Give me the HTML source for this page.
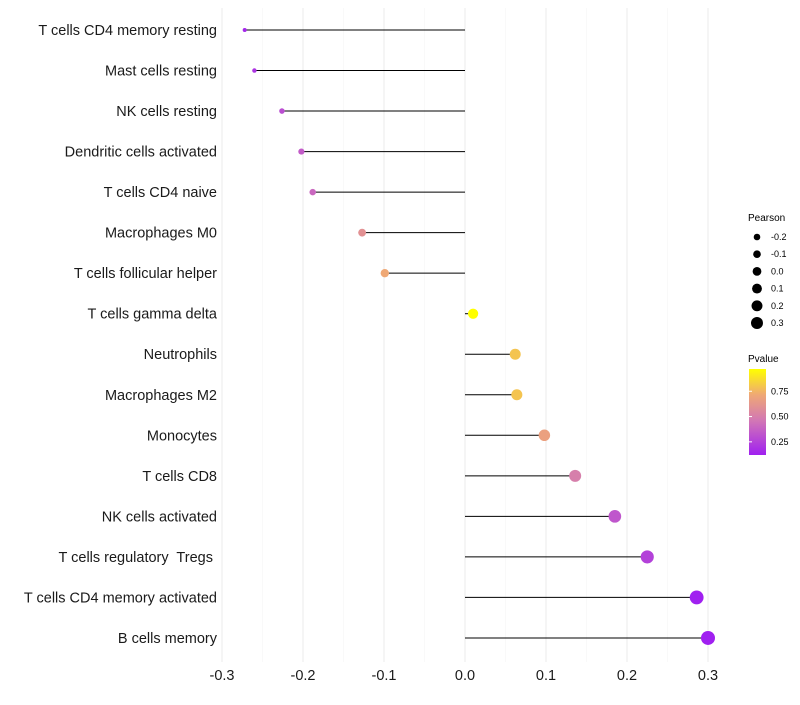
<!DOCTYPE html>
<html><head><meta charset="utf-8"><style>
body{margin:0;background:#fff;font-family:"Liberation Sans",sans-serif;}
</style></head><body>
<svg id="chart" width="800" height="700" xmlns="http://www.w3.org/2000/svg">
<defs><linearGradient id="pg" x1="0" y1="1" x2="0" y2="0">
<stop offset="0" stop-color="#A020F0"/><stop offset="0.4" stop-color="#D277B5"/><stop offset="0.7" stop-color="#EFA875"/><stop offset="1" stop-color="#FFFF00"/></linearGradient></defs>
<g id="grid"></g><g id="marks"></g><g id="labels"></g>
<g font-size="9" fill="#000">
<text x="748" y="221" font-size="10">Pearson</text>
<g id="sizeleg"></g></g>
<g font-size="9">
<text x="748" y="362" font-size="10">Pvalue</text>
<rect x="749" y="369" width="17" height="86" fill="url(#pg)"/>
<g id="cbticks"></g></g>
</svg>
<script>
const categories=["T cells CD4 memory resting","Mast cells resting","NK cells resting","Dendritic cells activated","T cells CD4 naive","Macrophages M0","T cells follicular helper","T cells gamma delta","Neutrophils","Macrophages M2","Monocytes","T cells CD8","NK cells activated","T cells regulatory  Tregs ","T cells CD4 memory activated","B cells memory"];
const pearson=[-0.272,-0.260,-0.226,-0.202,-0.188,-0.127,-0.099,0.010,0.062,0.064,0.098,0.136,0.185,0.225,0.286,0.300];
const pvalue=[0.15,0.2,0.3,0.35,0.4,0.6,0.72,0.97,0.8,0.8,0.68,0.5,0.33,0.25,0.12,0.12];
const xTicks=[-0.3,-0.2,-0.1,0.0,0.1,0.2,0.3];
const sizeLegend=[-0.2,-0.1,0.0,0.1,0.2,0.3];
const cbTicks=[0.25,0.5,0.75];
const NS="http://www.w3.org/2000/svg";
const x=v=>465+v*810;
const y=i=>30+i*40.53;
const r=v=>Math.sqrt(4+Math.max(0,v+0.272)*78.7);
const cb=p=>455-(p-0.12)/(0.97-0.12)*86;
const stops=[[0.12,[160,32,240]],[0.46,[210,119,181]],[0.72,[239,168,117]],[0.97,[255,255,0]]];
function col(p){p=Math.max(0.12,Math.min(0.97,p));for(let k=0;k<stops.length-1;k++){const[a,ca]=stops[k],[b,cbc]=stops[k+1];if(p<=b){const t=(p-a)/(b-a);return`rgb(${ca.map((c,j)=>Math.round(c+(cbc[j]-c)*t)).join(",")})`;}}return"#ff0";}
function el(t,a,p){const e=document.createElementNS(NS,t);for(const k in a)e.setAttribute(k,a[k]);p.appendChild(e);return e;}
const grid=document.getElementById("grid"),marks=document.getElementById("marks"),labels=document.getElementById("labels");
for(let v=-0.3;v<=0.3001;v+=0.05){const major=Math.abs(Math.round(v*20))%2===0;
const g=el("line",{x1:x(v),x2:x(v),y1:8,y2:662,stroke:major?"#ebebeb":"#f5f5f5","stroke-width":major?1:0.6},grid);

}
categories.forEach((c,i)=>{
const l=el("line",{x1:x(0),x2:x(pearson[i]),y1:y(i),y2:y(i),stroke:"#000","stroke-width":1},marks);


const d=el("circle",{cx:x(pearson[i]),cy:y(i),r:r(pearson[i]),fill:col(pvalue[i])},marks);


const t=el("text",{x:217,y:y(i)+5,"text-anchor":"end","font-size":14.5,fill:"#1a1a1a"},labels);
t.textContent=c;t.setAttribute("xml:space","preserve");t.style.whiteSpace="pre";

});
xTicks.forEach(v=>{const t=el("text",{x:x(v),y:680,"text-anchor":"middle","font-size":14.5,fill:"#1a1a1a"},labels);
t.textContent=v.toFixed(1);

});
const sl=document.getElementById("sizeleg");
sizeLegend.forEach((v,k)=>{const cy=237+k*17.2;
const c=el("circle",{cx:757,cy:cy,r:3.3+(v+0.2)*5.4,fill:"#000"},sl);


const t=el("text",{x:771,y:cy+3},sl);t.textContent=v.toFixed(1);

});
const ct=document.getElementById("cbticks");
cbTicks.forEach(p=>{const yy=cb(p);
const tk=el("line",{x1:749,x2:752,y1:yy,y2:yy,stroke:"#fff"},ct);


const t=el("text",{x:771,y:yy+3},ct);t.textContent=p.toFixed(2);

});
</script>
</body></html>
